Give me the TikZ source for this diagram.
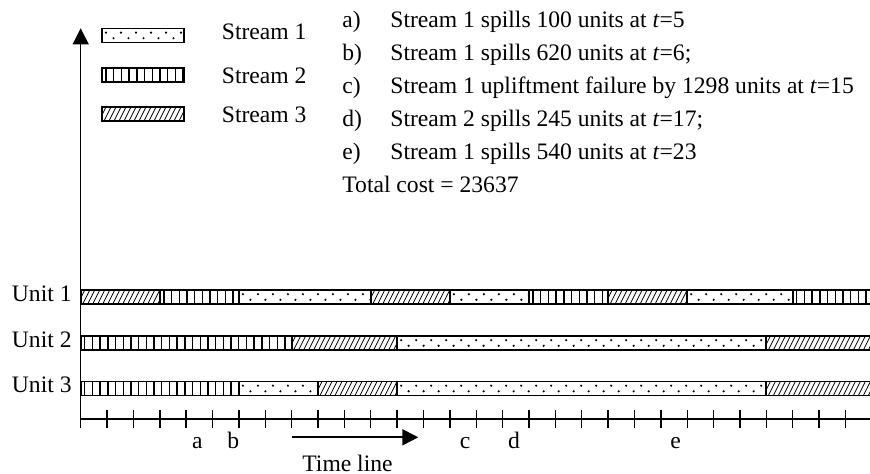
\documentclass[tikz,border=0pt]{standalone}
\usepackage{fontspec}
\setmainfont{Liberation Serif}
\usetikzlibrary{arrows.meta}

% Fill patterns for the three streams, drawn inside a clipped box
% #1 = x left, #2 = x right, #3 = y top, #4 = height
\newcommand{\patdots}[4]{%
  \pgfmathtruncatemacro\patn{(#2-#1)/15+1}%
  \foreach \k in {0,...,\patn}{%
    \fill ({#1+4+15*\k},{#3+0.3*#4}) circle[radius=0.6pt];
    \fill ({#1+11.5+15*\k},{#3+0.7*#4}) circle[radius=0.6pt];
  }}
\newcommand{\patstripes}[4]{%
  \pgfmathtruncatemacro\patn{(#2-#1)/7.7+1}%
  \foreach \k in {0,...,\patn}{%
    \draw[line width=0.7pt] ({#1+4+7.7*\k},#3) -- ++(0,#4);
  }}
\newcommand{\pathatch}[4]{%
  \pgfmathtruncatemacro\patn{(#2-#1)/5+3}%
  \foreach \k in {0,...,\patn}{%
    \draw[line width=0.4pt] ({#1-8+5*\k},{#3+#4}) -- ++(7,{-#4});
  }}

% #1 = stream (1 dots, 2 stripes, 3 hatch), #2 x left, #3 x right, #4 y top, #5 height
\newcommand{\patbox}[5]{%
  \begin{scope}
    \clip (#2,#4) rectangle (#3,{#4+#5});
    \ifcase#1\relax\or
      \patdots{#2}{#3}{#4}{#5}\or
      \patstripes{#2}{#3}{#4}{#5}\or
      \pathatch{#2}{#3}{#4}{#5}\fi
  \end{scope}
  \draw[segframe] (#2,#4) rectangle (#3,{#4+#5});}

% One schedule block on the time axis: #1 stream, #2 y top, #3 start t, #4 end t
\newcommand{\ganttseg}[4]{%
  \pgfmathsetmacro\segA{80.7+26.37*#3}%
  \pgfmathsetmacro\segB{80.7+26.37*#4}%
  \patbox{#1}{\segA}{\segB}{#2}{14}}

\begin{document}
\begin{tikzpicture}[x=0.5pt,y=-0.5pt,
  segframe/.style={line width=0.85pt},
  txt/.style={font=\fontsize{11.8pt}{14pt}\selectfont, inner sep=0pt},
  tick/.style={line width=0.7pt},
  tip/.style={-{Triangle[length=8pt,width=8pt]}}]
\useasboundingbox (0,0) rectangle (870,474);

% legend
\patbox{1}{102}{184}{28.5}{14}
\patbox{2}{102}{184}{68}{14}
\patbox{3}{102}{184}{107}{14}
\node[txt, anchor=base west] (leg1) at (221.5,40) {Stream 1};
\node[txt, anchor=base west] (leg2) at (221.5,83.5) {Stream 2};
\node[txt, anchor=base west] (leg3) at (221.5,122.5) {Stream 3};

% event list
\foreach \lab/\body [count=\i from 0] in {%
  a)/{Stream 1 spills 100 units at \textit{t}=5},
  b)/{Stream 1 spills 620 units at \textit{t}=6;},
  c)/{Stream 1 upliftment failure by 1298 units at \textit{t}=15},
  d)/{Stream 2 spills 245 units at \textit{t}=17;},
  e)/{Stream 1 spills 540 units at \textit{t}=23}}{
  \node[txt, anchor=base west] (ev\i) at (342,{28+33*\i}) {\lab};
  \node[txt, anchor=base west] (evtext\i) at (390,{28+33*\i}) {\body};
}
\node[txt, anchor=base west] (total) at (342,193) {Total cost = 23637};

% axes
\coordinate (origin) at (80.7,428);
\coordinate (ytop) at (80.7,28.3);
\coordinate (xstart) at (80.7,419);
\coordinate (xend) at (880,419);
\draw[line width=0.5pt, tip] (origin) -- (ytop);
\draw[line width=0.85pt] (xstart) -- (xend);
\foreach \k in {0,...,30}
  \draw[tick] ({80.7+26.37*\k},410) -- ++(0,18);

% unit schedules
\node[txt, anchor=base east] (u1) at (72,301.5) {Unit 1};
\node[txt, anchor=base east] (u2) at (72,347.5) {Unit 2};
\node[txt, anchor=base east] (u3) at (72,393) {Unit 3};

\foreach \s/\a/\b in {3/0/3, 2/3/6, 1/6/11, 3/11/14, 1/14/17, 2/17/20, 3/20/23, 1/23/27, 2/27/30}
  \ganttseg{\s}{290}{\a}{\b};
\foreach \s/\a/\b in {2/0/8, 3/8/12, 1/12/26, 3/26/30}
  \ganttseg{\s}{336}{\a}{\b};
\foreach \s/\a/\b in {2/0/6, 1/6/9, 3/9/12, 1/12/26, 3/26/30}
  \ganttseg{\s}{381.5}{\a}{\b};

% event markers
\node[txt, anchor=base] (ma) at (197.3,448) {a};
\node[txt, anchor=base] (mb) at (233.3,448) {b};
\node[txt, anchor=base] (mc) at (465,448) {c};
\node[txt, anchor=base] (md) at (514,448) {d};
\node[txt, anchor=base] (me) at (675.7,448) {e};

% direction of time
\coordinate (tl0) at (291.7,437.3);
\coordinate (tl1) at (418.3,437.3);
\draw[line width=1pt, tip] (tl0) -- (tl1);
\node[txt, anchor=base] (timeline) at (347.5,471) {Time line};
\end{tikzpicture}
\end{document}
